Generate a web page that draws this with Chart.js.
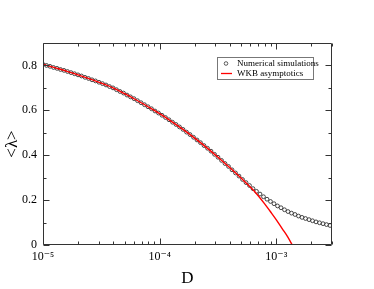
<!DOCTYPE html>
<html><head><meta charset="utf-8">
<script src="https://cdn.jsdelivr.net/npm/chart.js@4/dist/chart.umd.min.js"></script>
<style>html,body{margin:0;padding:0;background:#fff}#wrap{width:374px;height:289px}</style>
</head><body><div id="wrap"><canvas id="c" width="374" height="289"></canvas></div>
<script>
// log10(D) of the simulation points
const simLogD = [-5.00,-4.97,-4.94,-4.91,-4.88,-4.85,-4.82,-4.79,-4.76,-4.73,
  -4.70,-4.67,-4.64,-4.61,-4.58,-4.55,-4.52,-4.49,-4.46,-4.43,
  -4.40,-4.37,-4.34,-4.31,-4.28,-4.25,-4.22,-4.19,-4.16,-4.13,
  -4.10,-4.07,-4.04,-4.01,-3.98,-3.95,-3.92,-3.89,-3.86,-3.83,
  -3.80,-3.77,-3.74,-3.71,-3.68,-3.65,-3.62,-3.59,-3.56,-3.53,
  -3.50,-3.47,-3.44,-3.41,-3.38,-3.35,-3.32,-3.29,-3.26,-3.23,
  -3.20,-3.17,-3.14,-3.11,-3.08,-3.05,-3.02,-2.99,-2.96,-2.93,
  -2.90,-2.87,-2.84,-2.81,-2.78,-2.75,-2.72,-2.69,-2.66,-2.63,
  -2.60,-2.57,-2.54];
const simLambda = [0.805,0.800,0.796,0.791,0.787,0.782,0.778,0.773,0.768,0.763,
  0.758,0.753,0.747,0.742,0.736,0.731,0.725,0.719,0.713,0.706,
  0.700,0.692,0.684,0.677,0.668,0.660,0.652,0.643,0.634,0.625,
  0.616,0.607,0.597,0.588,0.578,0.568,0.558,0.547,0.537,0.526,
  0.515,0.503,0.492,0.480,0.468,0.456,0.443,0.431,0.418,0.404,
  0.391,0.377,0.363,0.350,0.335,0.321,0.307,0.292,0.278,0.265,
  0.251,0.239,0.227,0.215,0.204,0.194,0.184,0.174,0.166,0.157,
  0.149,0.142,0.136,0.129,0.123,0.118,0.113,0.108,0.103,0.099,
  0.095,0.091,0.087];
// WKB asymptotic curve
const wkbLogD = [-5.0,-4.9,-4.8,-4.7,-4.6,-4.5,-4.4,-4.3,-4.2,-4.1,-4.0,-3.9,-3.8,-3.7,-3.6,-3.5,-3.4,-3.3,-3.2,-3.15,-3.1,-3.05,-3.0,-2.95,-2.9,-2.864];
const wkbLambda = [0.805,0.790,0.775,0.758,0.740,0.721,0.700,0.674,0.646,0.616,0.585,0.551,0.515,0.476,0.435,0.391,0.345,0.297,0.246,0.216,0.183,0.148,0.112,0.073,0.034,0.0];

const xMajorTicks = [1e-5,1e-4,1e-3];
const xMinorTicks = [2e-5,3e-5,4e-5,5e-5,6e-5,7e-5,8e-5,9e-5,2e-4,3e-4,4e-4,5e-4,6e-4,7e-4,8e-4,9e-4,2e-3,3e-3];
const xTickLabels = ['10\u207B\u2075','10\u207B\u2074','10\u207B\u00B3'];
const yMajorTicks = [0,0.2,0.4,0.6,0.8];
const yMinorTicks = [0.1,0.3,0.5,0.7];
const yTickLabels = ['0','0.2','0.4','0.6','0.8'];
const seriesNames = ['Numerical simulations','WKB asymptotics'];

const simData = simLogD.map((e,i)=>({x:Math.pow(10,e),y:simLambda[i]}));
const wkbData = wkbLogD.map((e,i)=>({x:Math.pow(10,e),y:wkbLambda[i]}));

const SERIF = '"Liberation Serif","DejaVu Serif",serif';

const framePlugin = {
  id:'frame',
  afterDatasetsDraw(chart){
    const {ctx, chartArea:a, scales:{x,y}} = chart;
    ctx.save();
    ctx.strokeStyle = '#333';
    ctx.lineWidth = 1;
    ctx.beginPath();
    const L=Math.round(a.left)+0.5, R=Math.round(a.right)-0.5, T=Math.round(a.top)+0.5, B=Math.round(a.bottom)-0.5;
    ctx.rect(L,T,R-L,B-T);
    const tick=(v,len,isX)=>{
      if(isX){const p=Math.round(x.getPixelForValue(v))+0.5;
        ctx.moveTo(p,B);ctx.lineTo(p,B-len);ctx.moveTo(p,T);ctx.lineTo(p,T+len);}
      else{const p=Math.round(y.getPixelForValue(v))+0.5;
        ctx.moveTo(L,p);ctx.lineTo(L+len,p);ctx.moveTo(R,p);ctx.lineTo(R-len,p);}
    };
    xMajorTicks.forEach(v=>tick(v,6,true));
    xMinorTicks.forEach(v=>tick(v,3,true));
    yMajorTicks.forEach(v=>tick(v,6,false));
    yMinorTicks.forEach(v=>tick(v,3,false));
    ctx.stroke();
    // legend
    const bx=217.5, by=57.5, bw=96, bh=22;
    ctx.strokeStyle='#777';
    ctx.strokeRect(bx,by,bw,bh);
    ctx.strokeStyle='#333';
    ctx.lineWidth=0.8;
    ctx.beginPath();ctx.arc(226,63.5,1.8,0,Math.PI*2);ctx.stroke();
    ctx.beginPath();
    ctx.strokeStyle='#ff0000';ctx.lineWidth=1.3;
    ctx.moveTo(221,73.5);ctx.lineTo(232,73.5);ctx.stroke();
    ctx.fillStyle='#000';
    ctx.font='9px '+SERIF;
    ctx.textBaseline='middle';
    ctx.fillText(seriesNames[0],237,63.5);
    ctx.fillText(seriesNames[1],237,73.5);
    ctx.restore();
  }
};

new Chart(document.getElementById('c'),{
  type:'scatter',
  data:{datasets:[
    {label:seriesNames[1],data:wkbData,showLine:true,borderColor:'#ff0000',borderWidth:1.4,pointRadius:0,cubicInterpolationMode:'monotone',order:1},
    {label:seriesNames[0],data:simData,showLine:false,pointRadius:1.9,pointBorderWidth:0.9,pointBorderColor:'#333',pointBackgroundColor:'rgba(255,255,255,0)',order:2}
  ]},
  options:{
    responsive:false,animation:false,devicePixelRatio:1,
    layout:{padding:{left:0,right:42,top:43,bottom:0}},
    plugins:{legend:{display:false},tooltip:{enabled:false}},
    scales:{
      x:{type:'logarithmic',min:1e-5,max:3e-3,
        grid:{display:false,drawTicks:false},border:{display:false},
        afterBuildTicks:s=>{s.ticks=xMajorTicks.map(v=>({value:v}));},
        afterFit:s=>{s.height=44;},
        ticks:{autoSkip:false,maxRotation:0,padding:5,color:'#000',font:{family:SERIF,size:12},
          callback:(v,i)=>xTickLabels[i]},
        title:{display:true,text:'D',color:'#000',font:{family:SERIF,size:17},padding:{top:2,bottom:0}}
      },
      y:{min:0,max:0.9,
        grid:{display:false,drawTicks:false},border:{display:false},
        afterBuildTicks:s=>{s.ticks=yMajorTicks.map(v=>({value:v}));},
        afterFit:s=>{s.width=43;},
        ticks:{autoSkip:false,padding:6,color:'#000',font:{family:SERIF,size:12},
          callback:(v,i)=>yTickLabels[i]},
        title:{display:true,text:'<\u03BB>',color:'#000',font:{family:SERIF,size:17},padding:{top:2,bottom:0}}
      }
    }
  },
  plugins:[framePlugin]
});
</script></body></html>
